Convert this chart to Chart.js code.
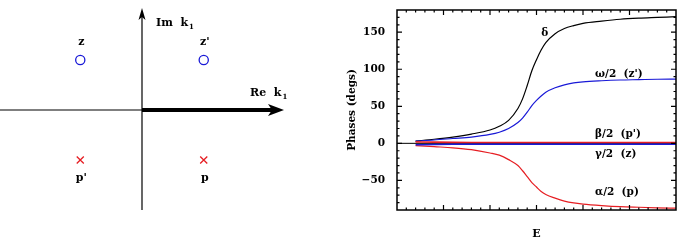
<!DOCTYPE html>
<html>
<head>
<meta charset="utf-8">
<script src="https://cdn.jsdelivr.net/npm/chart.js@4/dist/chart.umd.min.js"></script>
<style>
  body { margin: 0; background: #fff; }
  #wrap { position: relative; width: 682px; height: 246px; }
  canvas { position: absolute; top: 0; }
  #planeChart { left: 0; }
  #phaseChart { left: 300px; }
</style>
</head>
<body>
<div id="wrap">
  <canvas id="planeChart" width="300" height="246"></canvas>
  <canvas id="phaseChart" width="382" height="246"></canvas>
</div>
<script>
// complex k1 plane: zeros (circles) and poles (crosses)
const zeroRe = [-1, 1];
const zeroIm = [1, 1];
const zeroNames = ['z', "z'"];
const poleRe = [-1, 1];
const poleIm = [-1, -1];
const poleNames = ["p'", 'p'];

// phases vs E
const energy = [0.4, 0.8, 1.2, 1.6, 2.0, 2.2, 2.4, 2.6, 2.7, 2.8, 2.9, 3.0, 3.1, 3.2, 3.4, 3.6, 3.8, 4.0, 4.4, 4.8, 5.2, 5.6, 6.0];
const delta = [3, 5.5, 8.5, 12.5, 18, 23, 31, 47, 60, 78, 98, 113, 126, 136, 148, 155, 159, 162, 165, 167.5, 169, 170, 171];
const omegaHalf = [3, 4.5, 6.5, 8.5, 12, 15, 20, 28, 34, 42, 51, 58, 64, 69, 75, 79, 81.5, 83, 84.5, 85.5, 86, 86.5, 86.7];
const betaHalf = [2, 1.6, 1.3, 1.2, 1.2, 1.2, 1.2, 1.2, 1.2, 1.2, 1.2, 1.2, 1.2, 1.2, 1.2, 1.2, 1.2, 1.2, 1.2, 1.2, 1.2, 1.2, 1.2];
const gammaHalf = [-2, -1.6, -1.3, -1.2, -1.2, -1.2, -1.2, -1.2, -1.2, -1.2, -1.2, -1.2, -1.2, -1.2, -1.2, -1.2, -1.2, -1.2, -1.2, -1.2, -1.2, -1.2, -1.2];
const alphaHalf = [-3, -4.5, -6, -8.5, -13, -16, -22, -30, -37, -45, -53, -59, -65, -69, -74, -78, -80.5, -82, -84, -85.5, -86.3, -87, -87.5];
const yMajor = [-50, 0, 50, 100, 150];

const BLUE = 'rgb(25,25,215)';
const RED = 'rgb(230,30,35)';
const FONT = '"DejaVu Serif", serif';

function pts(xs, ys) {
    return xs.map((x, i) => ({ x: x, y: ys[i] }));
}

// draws "base" then a small lowered subscript
function subText(ctx, base, sub, x, y) {
    ctx.font = 'bold 11px ' + FONT;
    ctx.textAlign = 'left';
    ctx.textBaseline = 'middle';
    ctx.fillText(base, x, y);
    const w = ctx.measureText(base).width;
    ctx.font = 'bold 7px ' + FONT;
    ctx.fillText(sub, x + w + 1, y + 4);
}

const planeAxes = {
    id: 'planeAxes',
    beforeDatasetsDraw(chart) {
        const ctx = chart.ctx;
        const xs = chart.scales.x, ys = chart.scales.y;
        const area = chart.chartArea;
        const x0 = xs.getPixelForValue(0);
        const y0 = ys.getPixelForValue(0);
        ctx.save();
        ctx.strokeStyle = '#000';
        ctx.fillStyle = '#000';
        // vertical axis
        ctx.lineWidth = 1.2;
        ctx.beginPath();
        ctx.moveTo(x0, area.bottom);
        ctx.lineTo(x0, area.top + 6);
        ctx.stroke();
        ctx.beginPath();
        ctx.moveTo(x0, area.top - 2);
        ctx.lineTo(x0 - 3.5, area.top + 10);
        ctx.lineTo(x0, area.top + 7);
        ctx.lineTo(x0 + 3.5, area.top + 10);
        ctx.closePath();
        ctx.fill();
        // horizontal axis: thin on the left, thick on the right
        ctx.beginPath();
        ctx.moveTo(area.left, y0);
        ctx.lineTo(x0, y0);
        ctx.stroke();
        ctx.lineWidth = 4;
        ctx.beginPath();
        ctx.moveTo(x0, y0);
        ctx.lineTo(area.right - 10, y0);
        ctx.stroke();
        ctx.beginPath();
        ctx.moveTo(area.right, y0);
        ctx.lineTo(area.right - 16, y0 - 6);
        ctx.lineTo(area.right - 12, y0);
        ctx.lineTo(area.right - 16, y0 + 6);
        ctx.closePath();
        ctx.fill();
        subText(ctx, 'Im  k', '1', x0 + 14, area.top + 13);
        subText(ctx, 'Re  k', '1', area.right - 34, y0 - 17);
        // point names
        ctx.font = 'bold 11px ' + FONT;
        ctx.textAlign = 'center';
        zeroRe.forEach((re, i) => {
            ctx.fillText(zeroNames[i], xs.getPixelForValue(re) + 1, ys.getPixelForValue(zeroIm[i]) - 18);
        });
        poleRe.forEach((re, i) => {
            ctx.fillText(poleNames[i], xs.getPixelForValue(re) + 1, ys.getPixelForValue(poleIm[i]) + 18);
        });
        ctx.restore();
    }
};

new Chart(document.getElementById('planeChart'), {
    type: 'scatter',
    data: {
        datasets: [{
            label: 'zeros',
            data: pts(zeroRe, zeroIm),
            pointStyle: 'circle',
            radius: 4.6,
            borderWidth: 1.3,
            borderColor: BLUE,
            backgroundColor: 'rgba(0,0,0,0)'
        }, {
            label: 'poles',
            data: pts(poleRe, poleIm),
            pointStyle: 'crossRot',
            radius: 5,
            borderWidth: 1.3,
            borderColor: RED,
            backgroundColor: RED
        }]
    },
    options: {
        responsive: false,
        animation: false,
        layout: { autoPadding: false, padding: { left: 0, right: 16, top: 10, bottom: 36 } },
        plugins: { legend: { display: false }, tooltip: { enabled: false } },
        scales: {
            x: { display: false, min: -2.3, max: 2.3 },
            y: { display: false, min: -2, max: 2 }
        }
    },
    plugins: [planeAxes]
});

// frame with inward major/minor ticks on all four sides, plus zero line and curve names
const phaseFrame = {
    id: 'phaseFrame',
    beforeDatasetsDraw(chart) {
        const ctx = chart.ctx;
        const area = chart.chartArea;
        const y0 = chart.scales.y.getPixelForValue(0);
        ctx.save();
        ctx.strokeStyle = '#000';
        ctx.lineWidth = 1;
        ctx.beginPath();
        ctx.moveTo(area.left, y0);
        ctx.lineTo(area.right, y0);
        ctx.stroke();
        ctx.restore();
    },
    afterDraw(chart) {
        const ctx = chart.ctx;
        const xs = chart.scales.x, ys = chart.scales.y;
        const a = chart.chartArea;
        ctx.save();
        ctx.strokeStyle = '#000';
        ctx.lineWidth = 1.5;
        ctx.strokeRect(a.left, a.top, a.right - a.left, a.bottom - a.top);
        ctx.lineWidth = 1.2;
        ctx.beginPath();
        for (let i = 1; i < 30; i++) {
            const v = i * 0.2;
            const px = xs.getPixelForValue(v);
            const len = i % 5 === 0 ? 5 : 2.5;
            ctx.moveTo(px, a.bottom); ctx.lineTo(px, a.bottom - len);
            ctx.moveTo(px, a.top); ctx.lineTo(px, a.top + len);
        }
        for (let v = -80; v < 180; v += 10) {
            const py = ys.getPixelForValue(v);
            const len = v % 50 === 0 ? 5 : 2.5;
            ctx.moveTo(a.left, py); ctx.lineTo(a.left + len, py);
            ctx.moveTo(a.right, py); ctx.lineTo(a.right - len, py);
        }
        ctx.stroke();

        ctx.fillStyle = '#000';
        ctx.font = 'bold 10.5px ' + FONT;
        ctx.textBaseline = 'middle';
        ctx.textAlign = 'center';
        ctx.fillText('δ', xs.getPixelForValue(3.18), ys.getPixelForValue(148));
        ctx.textAlign = 'left';
        const lx = xs.getPixelForValue(4.26);
        ctx.fillText("ω/2  (z')", lx, ys.getPixelForValue(93));
        ctx.fillText("β/2  (p')", lx, ys.getPixelForValue(12.7));
        ctx.fillText('γ/2  (z)', lx, ys.getPixelForValue(-14.4));
        ctx.fillText('α/2  (p)', lx, ys.getPixelForValue(-66));
        ctx.restore();
    }
};

function curve(label, ys, color, width) {
    return {
        label: label,
        data: pts(energy, ys),
        borderColor: color,
        borderWidth: width,
        pointRadius: 0,
        fill: false,
        cubicInterpolationMode: 'monotone'
    };
}

new Chart(document.getElementById('phaseChart'), {
    type: 'line',
    data: {
        datasets: [
            curve('γ/2 (z)', gammaHalf, BLUE, 1.6),
            curve('β/2 (p\')', betaHalf, RED, 1.6),
            curve('α/2 (p)', alphaHalf, RED, 1.2),
            curve('ω/2 (z\')', omegaHalf, BLUE, 1.2),
            curve('δ', delta, '#000', 1.2)
        ]
    },
    options: {
        responsive: false,
        animation: false,
        layout: { autoPadding: false, padding: { left: 0, right: 6, top: 10, bottom: 0 } },
        plugins: { legend: { display: false }, tooltip: { enabled: false } },
        scales: {
            x: {
                type: 'linear',
                min: 0,
                max: 6,
                grid: { display: false, drawTicks: false },
                border: { display: false },
                ticks: { display: false },
                title: {
                    display: true,
                    text: 'E',
                    color: '#000',
                    font: { family: FONT, size: 11, weight: 'bold' },
                    padding: { top: 0, bottom: 5 }
                },
                afterFit(scale) {
                    scale.height = 36;
                    scale.paddingLeft = 0;
                    scale.paddingRight = 0;
                }
            },
            y: {
                min: -90,
                max: 180,
                grid: { display: false, drawTicks: false },
                border: { display: false },
                afterBuildTicks(scale) { scale.ticks = yMajor.map(v => ({ value: v })); },
                ticks: {
                    color: '#000',
                    padding: 12,
                    font: { family: FONT, size: 10.5, weight: 'bold' },
                    callback: v => String(v).replace('-', '\u2212')
                },
                title: {
                    display: true,
                    text: 'Phases (degs)',
                    color: '#000',
                    font: { family: FONT, size: 10.5, weight: 'bold' },
                    padding: { top: 46, bottom: 0 }
                },
                afterFit(scale) {
                    scale.width = 97;
                    scale.paddingTop = 0;
                    scale.paddingBottom = 0;
                }
            }
        }
    },
    plugins: [phaseFrame]
});
</script>
</body>
</html>
